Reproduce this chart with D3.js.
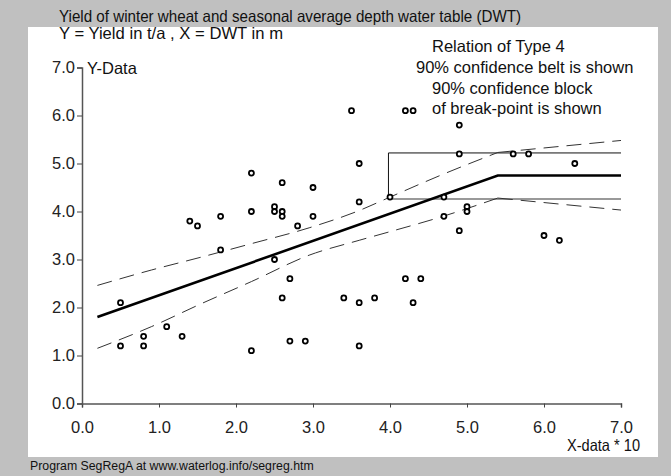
<!DOCTYPE html>
<html>
<head>
<meta charset="utf-8">
<script src="https://cdn.jsdelivr.net/npm/d3@7"></script>
<style>
  body { margin: 0; background: #c0c0c0; }
  svg { display: block; font-family: "Liberation Sans", Arial, sans-serif; }
</style>
</head>
<body>
<svg id="chart" width="671" height="476"></svg>
<script>
// observed points (X-data * 10, Y-Data)
var pointsX = [0.5, 0.5, 0.8, 0.8, 1.1, 1.3, 1.4, 1.5, 1.8, 1.8, 2.2, 2.2, 2.2, 2.5, 2.5, 2.5,
  2.6, 2.6, 2.6, 2.6, 2.8, 2.7, 2.7, 2.9, 3.0, 3.0, 3.4, 3.5, 3.6, 3.6, 3.6, 3.6, 3.8,
  4.0, 4.2, 4.3, 4.2, 4.4, 4.3, 4.7, 4.7, 4.9, 4.9, 4.9, 5.0, 5.0, 5.6, 5.8, 6.0, 6.2, 6.4]
var pointsY = [2.1, 1.2, 1.4, 1.2, 1.6, 1.4, 3.8, 3.7, 3.9, 3.2, 4.8, 4.0, 1.1, 4.1, 4.0, 3.0,
  4.6, 4.0, 3.9, 2.2, 3.7, 2.6, 1.3, 1.3, 4.5, 3.9, 2.2, 6.1, 5.0, 4.2, 2.1, 1.2, 2.2,
  4.3, 6.1, 6.1, 2.6, 2.6, 2.1, 4.3, 3.9, 5.8, 5.2, 3.6, 4.1, 4.0, 5.2, 5.2, 3.5, 3.4, 5.0]

// segmented regression line
var lineX = [0.2, 5.4, 7.0]
var lineY = [1.8, 4.75, 4.75]

// 90% confidence belt (two pieces, split at break-point)
var beltLeftX = [0.2, 0.9, 1.55, 2.2, 2.95, 3.6, 4.0, 4.65, 5.4]
var beltLeftUp = [2.46, 2.78, 3.05, 3.33, 3.66, 4.02, 4.30, 4.75, 5.23]
var beltLeftLo = [1.15, 1.60, 2.08, 2.54, 3.09, 3.40, 3.58, 3.88, 4.28]
var beltRightX = [5.4, 7.0]
var beltRightUp = [5.23, 5.48]
var beltRightLo = [4.28, 4.03]

// 90% confidence block of break-point
var blockX = [3.98, 7.0]
var blockY = [4.26, 5.22]

var tickVals = [0, 1, 2, 3, 4, 5, 6, 7]

var svg = d3.select("#chart")

svg.append("rect").attr("x", 28).attr("y", 27).attr("width", 630).attr("height", 430)
  .attr("fill", "#fff")

var x = d3.scaleLinear().domain([0, 7]).range([82, 621])
var y = d3.scaleLinear().domain([0, 7]).range([403.5, 67.5])

// axes
svg.append("g")
  .attr("transform", `translate(0,${y(0)})`)
  .call(d3.axisBottom(x).tickValues(tickVals).tickFormat(d3.format(".1f")).tickSize(4).tickPadding(14))
svg.append("g")
  .attr("transform", `translate(${x(0)},0)`)
  .call(d3.axisLeft(y).tickValues(tickVals).tickFormat(d3.format(".1f")).tickSize(5).tickPadding(2))

svg.selectAll(".domain").attr("stroke", "#555").attr("stroke-width", 1.5)
svg.selectAll(".tick line").attr("stroke", "#444").attr("stroke-width", 1)
svg.selectAll(".tick text").attr("font-size", 16.5).attr("fill", "#222")
  .attr("font-family", "Liberation Sans, Arial, sans-serif")

// confidence block
svg.append("path")
  .attr("d", `M${x(blockX[1])},${y(blockY[1])}H${x(blockX[0])}V${y(blockY[0])}`)
  .attr("fill", "none").attr("stroke", "#111").attr("stroke-width", 1)
svg.append("line")
  .attr("x1", x(blockX[0])).attr("x2", x(blockX[1]))
  .attr("y1", y(blockY[0])).attr("y2", y(blockY[0]))
  .attr("stroke", "#777").attr("stroke-width", 1.5)

// belts
var line = d3.line().x(d => x(d[0])).y(d => y(d[1])).curve(d3.curveMonotoneX)
function belt(xs, ys) {
  svg.append("path")
    .attr("d", line(xs.map((v, i) => [v, ys[i]])))
    .attr("fill", "none").attr("stroke", "#333").attr("stroke-width", 1)
    .attr("stroke-dasharray", "15,8")
}
belt(beltLeftX, beltLeftUp)
belt(beltLeftX, beltLeftLo)
belt(beltRightX, beltRightUp)
belt(beltRightX, beltRightLo)

// regression line
svg.append("path")
  .attr("d", d3.line()(lineX.map((v, i) => [x(v), y(lineY[i])])))
  .attr("fill", "none").attr("stroke", "#000").attr("stroke-width", 2.6)

// points
svg.selectAll("circle.pt").data(pointsX).enter()
  .append("circle").attr("class", "pt")
  .attr("cx", (d) => x(d))
  .attr("cy", (d, i) => y(pointsY[i]))
  .attr("r", 2.5)
  .attr("fill", "#fff").attr("stroke", "#000").attr("stroke-width", 1.8)

// texts
function txt(s, tx, ty, size, anchor) {
  return svg.append("text").attr("x", tx).attr("y", ty).attr("font-size", size)
    .attr("text-anchor", anchor || "start").attr("fill", "#111").text(s)
}
txt("Yield of winter wheat and seasonal average depth water table (DWT)", 59, 22, 16.5)
  .attr("textLength", 462).attr("lengthAdjust", "spacingAndGlyphs")
txt("Y = Yield in t/a , X = DWT in m", 59, 39, 16.5)
  .attr("textLength", 224).attr("lengthAdjust", "spacingAndGlyphs")
txt("Y-Data", 87, 74, 16.5)
txt("Relation of Type 4", 432, 52, 16.5)
txt("90% confidence belt is shown", 416, 73, 16.5)
txt("90% confidence block", 432, 94, 16.5)
txt("of break-point is shown", 432, 114, 16.5)
txt("X-data * 10", 567, 451, 16.5)
  .attr("textLength", 73).attr("lengthAdjust", "spacingAndGlyphs")
txt("Program SegRegA at www.waterlog.info/segreg.htm", 30, 470, 12.3)
</script>
</body>
</html>
